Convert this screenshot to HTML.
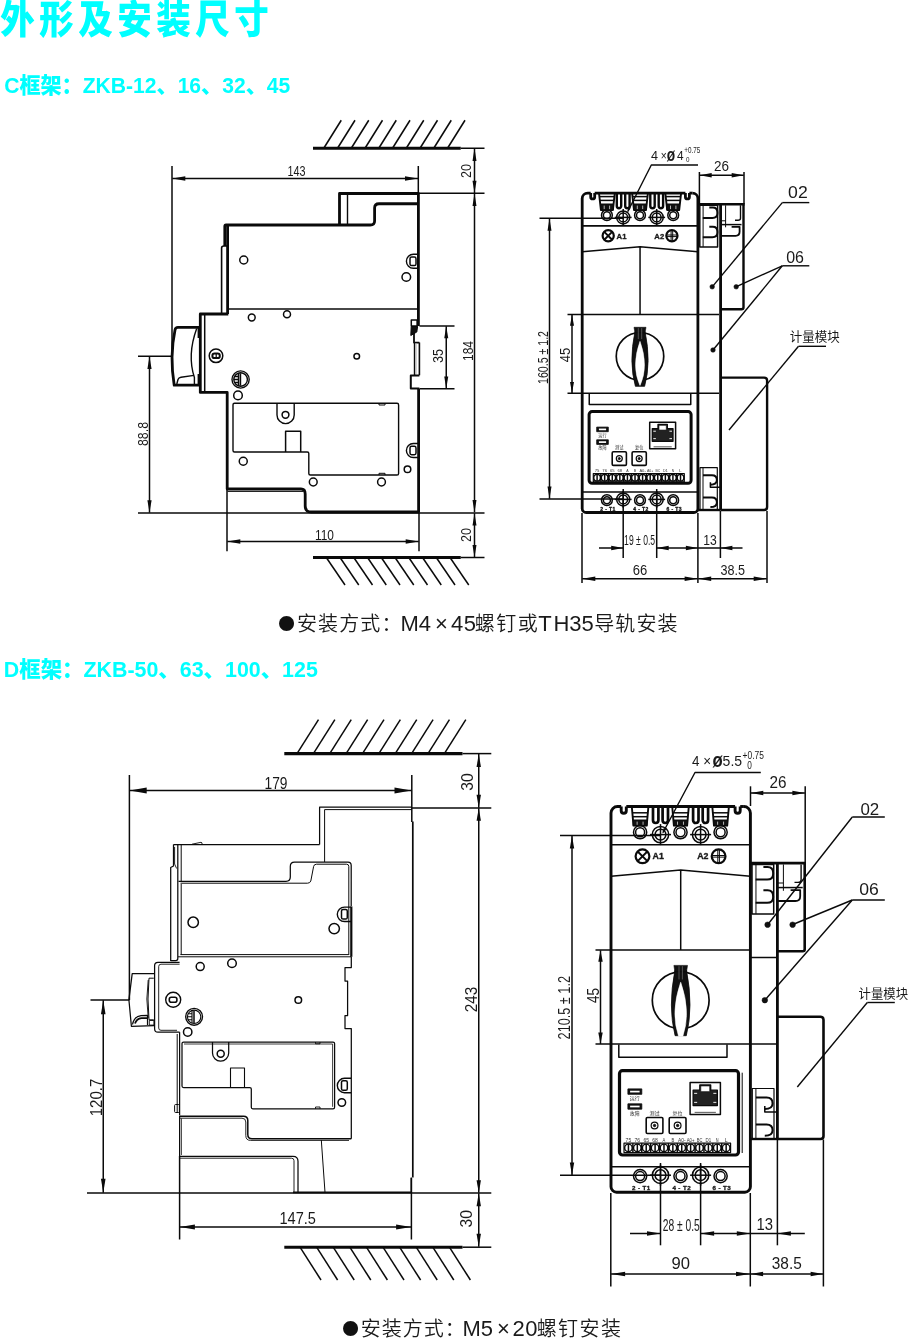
<!DOCTYPE html>
<html lang="zh-CN"><head><meta charset="utf-8"><title>外形及安装尺寸</title>
<style>
html,body{margin:0;padding:0;background:#fff}
body{width:908px;height:1338px;overflow:hidden;position:relative}
svg{position:absolute;left:0;top:0;display:block;will-change:transform}
svg text{font-family:"Liberation Sans","Noto Sans CJK SC",sans-serif;stroke:none}
svg .cy{fill:#00ffff;font-weight:900}
svg .cj{font-weight:350}
svg .cm{font-weight:400}
svg .a{fill:#0a0a0a;stroke:none}
svg text.bd{stroke:#1a1a1a;stroke-width:0.35px}
</style></head><body>
<svg width="908" height="1338" viewBox="0 0 908 1338">
<g fill="none" stroke="#0a0a0a" stroke-linejoin="round">
<text x="0" y="0" font-size="34.5" transform="translate(0.3 33.4) scale(1 1.13)" class="cy" fill="#1a1a1a" letter-spacing="4.5">外形及安装尺寸</text>
<text x="0" y="0" font-size="19.5" textLength="286" lengthAdjust="spacingAndGlyphs" transform="translate(4.2 93) scale(1 1.1)" class="cy" fill="#1a1a1a">C框架：ZKB-12、16、32、45</text>
<text x="0" y="0" font-size="19.5" textLength="314" lengthAdjust="spacingAndGlyphs" transform="translate(3.8 676.5) scale(1 1.1)" class="cy" fill="#1a1a1a">D框架：ZKB-50、63、100、125</text>
<text x="278.15" y="630" font-size="16.6" fill="#111" style="font-family:'Noto Sans CJK SC','Liberation Sans',sans-serif">●</text>
<text class="cj" fill="#1a1a1a" y="631.4"><tspan x="297" font-size="20" letter-spacing="1.1">安装方式：</tspan><tspan x="400.5" font-size="22" letter-spacing="0">M4</tspan><tspan x="435.1" font-size="22" letter-spacing="0">×</tspan><tspan x="451" font-size="22" letter-spacing="0.4">45</tspan><tspan x="474.7" font-size="20" letter-spacing="1.5">螺钉或</tspan><tspan x="538.2" font-size="22" letter-spacing="0">T</tspan><tspan x="553.4" font-size="22" letter-spacing="0">H35</tspan><tspan x="594.2" font-size="20" letter-spacing="1.1">导轨安装</tspan></text>
<text x="342.25" y="1335" font-size="16.6" fill="#111" style="font-family:'Noto Sans CJK SC','Liberation Sans',sans-serif">●</text>
<text class="cj" fill="#1a1a1a" y="1336.4"><tspan x="360.7" font-size="20" letter-spacing="1">安装方式：</tspan><tspan x="462.4" font-size="22" letter-spacing="0">M5</tspan><tspan x="497" font-size="22" letter-spacing="0">×</tspan><tspan x="512.5" font-size="22" letter-spacing="0.4">20</tspan><tspan x="536.7" font-size="20" letter-spacing="1.4">螺钉安装</tspan></text>
<path d="M313 148.25L460.75 148.25" stroke-width="2.9"/>
<path d="M460.75 148.25L484.5 148.25" stroke-width="1.5"/>
<path d="M323.75 148.25L341.25 120.25" stroke-width="1.5"/>
<path d="M337.5 148.25L355 120.25" stroke-width="1.5"/>
<path d="M351.25 148.25L368.75 120.25" stroke-width="1.5"/>
<path d="M365 148.25L382.5 120.25" stroke-width="1.5"/>
<path d="M378.75 148.25L396.25 120.25" stroke-width="1.5"/>
<path d="M392.5 148.25L410 120.25" stroke-width="1.5"/>
<path d="M406.25 148.25L423.75 120.25" stroke-width="1.5"/>
<path d="M420 148.25L437.5 120.25" stroke-width="1.5"/>
<path d="M433.75 148.25L451.25 120.25" stroke-width="1.5"/>
<path d="M447.5 148.25L465 120.25" stroke-width="1.5"/>
<path d="M313 557.5L460.75 557.5" stroke-width="2.9"/>
<path d="M460.75 557.5L484.5 557.5" stroke-width="1.5"/>
<path d="M326.25 557.5L345 585" stroke-width="1.5"/>
<path d="M340 557.5L358.75 585" stroke-width="1.5"/>
<path d="M353.75 557.5L372.5 585" stroke-width="1.5"/>
<path d="M367.5 557.5L386.25 585" stroke-width="1.5"/>
<path d="M381.25 557.5L400 585" stroke-width="1.5"/>
<path d="M395 557.5L413.75 585" stroke-width="1.5"/>
<path d="M408.75 557.5L427.5 585" stroke-width="1.5"/>
<path d="M422.5 557.5L441.25 585" stroke-width="1.5"/>
<path d="M436.25 557.5L455 585" stroke-width="1.5"/>
<path d="M450 557.5L468.75 585" stroke-width="1.5"/>
<path d="M172 166L172 356" stroke-width="1.5"/>
<path d="M418.3 166L418.3 193" stroke-width="1.5"/>
<path d="M172.3 178.5L418 178.5" stroke-width="1.5"/>
<path d="M172.3 178.5L185.3 176.3L185.3 180.7Z" class="a"/>
<path d="M418 178.5L405 180.7L405 176.3Z" class="a"/>
<text x="296.5" y="176.3" font-size="14" text-anchor="middle" textLength="18" lengthAdjust="spacingAndGlyphs" fill="#1a1a1a">143</text>
<path d="M418.5 193.25L484.5 193.25" stroke-width="1.5"/>
<path d="M474.5 148.6L474.5 193" stroke-width="1.5"/>
<path d="M474.5 148.6L476.5 160.9L472.5 160.9Z" class="a"/>
<path d="M474.5 193L472.5 180.7L476.5 180.7Z" class="a"/>
<text x="470.5" y="171" font-size="14" text-anchor="middle" textLength="14" lengthAdjust="spacingAndGlyphs" transform="rotate(-90 470.5 171)" fill="#1a1a1a">20</text>
<path d="M474.5 193.6L474.5 512.3" stroke-width="1.5"/>
<path d="M474.5 193.6L476.5 205.9L472.5 205.9Z" class="a"/>
<path d="M474.5 512.3L472.5 500L476.5 500Z" class="a"/>
<text x="473" y="351" font-size="14" text-anchor="middle" textLength="20" lengthAdjust="spacingAndGlyphs" transform="rotate(-90 473 351)" fill="#1a1a1a">184</text>
<path d="M138 513L484.5 513" stroke-width="1.5"/>
<path d="M474.5 513.3L474.5 557.2" stroke-width="1.5"/>
<path d="M474.5 513.3L476.5 525.6L472.5 525.6Z" class="a"/>
<path d="M474.5 557.2L472.5 544.9L476.5 544.9Z" class="a"/>
<text x="470.5" y="535" font-size="14" text-anchor="middle" textLength="14" lengthAdjust="spacingAndGlyphs" transform="rotate(-90 470.5 535)" fill="#1a1a1a">20</text>
<path d="M419.5 326L454.5 326" stroke-width="1.5"/>
<path d="M419.5 388.7L454.5 388.7" stroke-width="1.5"/>
<path d="M446.25 326.3L446.25 388.4" stroke-width="1.5"/>
<path d="M446.25 326.3L448.25 338.3L444.25 338.3Z" class="a"/>
<path d="M446.25 388.4L444.25 376.4L448.25 376.4Z" class="a"/>
<text x="443" y="356" font-size="14" text-anchor="middle" textLength="14" lengthAdjust="spacingAndGlyphs" transform="rotate(-90 443 356)" fill="#1a1a1a">35</text>
<path d="M138 356.25L172 356.25" stroke-width="1.5"/>
<path d="M149.5 356.5L149.5 512.7" stroke-width="1.5"/>
<path d="M149.5 356.5L151.6 369L147.4 369Z" class="a"/>
<path d="M149.5 512.7L147.4 500.2L151.6 500.2Z" class="a"/>
<text x="148" y="434" font-size="14" text-anchor="middle" textLength="24" lengthAdjust="spacingAndGlyphs" transform="rotate(-90 148 434)" fill="#1a1a1a">88.8</text>
<path d="M227 489L227 551.3" stroke-width="1.5"/>
<path d="M419 513L419 551.3" stroke-width="1.5"/>
<path d="M227.3 541.5L418.7 541.5" stroke-width="1.5"/>
<path d="M227.3 541.5L240.3 539.3L240.3 543.7Z" class="a"/>
<path d="M418.7 541.5L405.7 543.7L405.7 539.3Z" class="a"/>
<text x="324.5" y="539.5" font-size="14" text-anchor="middle" textLength="19" lengthAdjust="spacingAndGlyphs" fill="#1a1a1a">110</text>
<path d="M339.5 225V193.5H418.4V326" stroke-width="2.8"/>
<path d="M418.6 388.7V512H311Q305.2 512 305.2 506V494Q305.2 489 301 489H227.2V392.4H200.3V314H228.3" stroke-width="2.8"/>
<path d="M227.6 225V314" stroke-width="2.8"/>
<path d="M418.4 203.75H379Q374.6 203.75 374.6 208V221Q374.6 225 370.3 225H226Q224.8 225 224.8 226.5V246" stroke-width="2.8"/>
<path d="M221.6 313.5V248Q221.6 246 224 246H227" stroke-width="1.6"/>
<path d="M347.5 194L347.5 225" stroke-width="1.4"/>
<path d="M228.5 309L417.5 309" stroke-width="1.4"/>
<path d="M204.7 314.5L204.7 392" stroke-width="1.5"/>
<path d="M227.5 491.4L303 491.4" stroke-width="1"/>
<path d="M199.5 327.4H178Q175.5 327.4 175 330Q169.5 356 174.2 385.2H199.5" stroke-width="2.8"/>
<path d="M196.7 328.4Q187 355 194.4 377.5V385" stroke-width="1.4"/>
<path d="M176.8 384L178 379.5Q178.6 377.6 181 377.2L194 375.4" stroke-width="1.4"/>
<path d="M199 328L199 338" stroke-width="2.8"/>
<path d="M199 374L199 385" stroke-width="2.8"/>
<rect x="411.3" y="320" width="5.8" height="6" stroke-width="1.5"/>
<path d="M411.2 326.5L410.8 335.5L416.8 332L417.6 326.5Z" stroke-width="1" fill="#111"/>
<path d="M414 333V342.6H419.4" stroke-width="1.8"/>
<path d="M419.4 342.6V375.2M414.6 342.6V375.2" stroke-width="1.6"/>
<path d="M415.8 343.5V374.5" stroke-width="1.6" style="stroke:#bbb"/>
<path d="M419.4 375.6H410.8V388.6H419.4" stroke-width="2"/>
<path d="M234.5 403.3H397Q398.6 403.3 398.6 405V473.4Q398.6 475 397 475H310.3Q308.8 475 308.8 473.5V453.5Q308.8 452 307.3 452H234.5Q233 452 233 450.5V404.8Q233 403.3 234.5 403.3Z" stroke-width="1.4"/>
<path d="M277 403.3V415A8.6 8.6 0 0 0 294.2 415V403.3" stroke-width="1.4"/>
<circle cx="285.5" cy="414.8" r="3.4" stroke-width="1.5"/>
<path d="M285.6 452V431.3H300.7V452" stroke-width="1.5"/>
<path d="M379 403.3V405H385V403.3M379 475V473.3H385V475" stroke-width="1"/>
<circle cx="243.75" cy="260" r="4" stroke-width="1.5"/>
<circle cx="251.75" cy="317.5" r="3.4" stroke-width="1.5"/>
<circle cx="287" cy="314.25" r="3.5" stroke-width="1.5"/>
<circle cx="356.75" cy="356.25" r="2.8" stroke-width="1.5"/>
<circle cx="238" cy="395.4" r="4.3" stroke-width="1.5"/>
<circle cx="243.25" cy="461.25" r="4" stroke-width="1.5"/>
<circle cx="313.25" cy="482" r="3.9" stroke-width="1.5"/>
<circle cx="381.5" cy="482" r="3.9" stroke-width="1.5"/>
<circle cx="406.3" cy="277" r="4.3" stroke-width="1.5"/>
<circle cx="407.5" cy="469.25" r="3.3" stroke-width="1.5"/>
<circle cx="216" cy="355.8" r="6.8" stroke-width="1.5"/>
<rect x="212.4" y="353.5" width="7.4" height="4.6" stroke-width="2" rx="2.2"/>
<path d="M216.2 353.5L216.2 358.1" stroke-width="1.2"/>
<circle cx="240.6" cy="379.5" r="8.6" stroke-width="1.4"/>
<circle cx="240.6" cy="379.5" r="6.8" stroke-width="1.4"/>
<path d="M238.5 373V386M238.5 379.5H234M234.2 376.5H238.5M234.2 382.5H238.5" stroke-width="1.4"/>
<path d="M240.4 373.3V385.7" stroke-width="1.6"/>
<path d="M418 268.3 H413.4A7 7 0 0 1 413.4 254.3H418" stroke-width="1.4"/>
<rect x="410" y="257.1" width="6" height="8.4" stroke-width="1.5" rx="1.6"/>
<path d="M418 457.5 H413.4A7 7 0 0 1 413.4 443.5H418" stroke-width="1.4"/>
<rect x="410" y="446.3" width="6" height="8.4" stroke-width="1.5" rx="1.6"/>
<path d="M590.7 193.1H587.7A5.5 5.5 0 0 0 582.2 198.6V508.5A4 4 0 0 0 586.2 512.5H693.9A4 4 0 0 0 697.9 508.5V198.6A5.5 5.5 0 0 0 692.4 193.1" stroke-width="2.8"/>
<path d="M590.7 193.1V196.9A2 2 0 0 0 594.7 196.9V193.1" stroke-width="2.8"/>
<path d="M689.4 193.1V196.9A2 2 0 0 1 685.4 196.9V193.1" stroke-width="2.8"/>
<path d="M594.7 193.1L685.4 193.1" stroke-width="2.8"/>
<path d="M689.4 193.1L692.4 193.1" stroke-width="2.8"/>
<path d="M599 193.1L600.9 210H612.9L614.8 193.1" stroke-width="1.9"/>
<path d="M599.6 196.6L614.2 196.6" stroke-width="1.5"/>
<path d="M600 200.4L613.8 200.4" stroke-width="1.5"/>
<path d="M600.6 204H613.2V210H600.6Z" stroke-width="1" fill="#111"/>
<path d="M604.2 205.6v3.6 M609.6 205.6v3.6" stroke-width="0.8" style="stroke:#ddd"/>
<path d="M632.1 193.1L634 210H646L647.9 193.1" stroke-width="1.9"/>
<path d="M632.7 196.6L647.3 196.6" stroke-width="1.5"/>
<path d="M633.1 200.4L646.9 200.4" stroke-width="1.5"/>
<path d="M633.7 204H646.3V210H633.7Z" stroke-width="1" fill="#111"/>
<path d="M637.3 205.6v3.6 M642.7 205.6v3.6" stroke-width="0.8" style="stroke:#ddd"/>
<path d="M665.3 193.1L667.2 210H679.2L681.1 193.1" stroke-width="1.9"/>
<path d="M665.9 196.6L680.5 196.6" stroke-width="1.5"/>
<path d="M666.3 200.4L680.1 200.4" stroke-width="1.5"/>
<path d="M666.9 204H679.5V210H666.9Z" stroke-width="1" fill="#111"/>
<path d="M670.5 205.6v3.6 M675.9 205.6v3.6" stroke-width="0.8" style="stroke:#ddd"/>
<path d="M616.8 193.1V206A2.2 2.2 0 0 0 621.2 206V193.1" stroke-width="2.4"/>
<path d="M625.2 193.1V206A2.2 2.2 0 0 0 629.6 206V193.1" stroke-width="2.4"/>
<path d="M650.3 193.1V206A2.2 2.2 0 0 0 654.7 206V193.1" stroke-width="2.4"/>
<path d="M658.7 193.1V206A2.2 2.2 0 0 0 663.1 206V193.1" stroke-width="2.4"/>
<circle cx="606.9" cy="215.2" r="5.4" stroke-width="1.5"/>
<circle cx="606.9" cy="215.2" r="3.5" stroke-width="1.5"/>
<circle cx="640" cy="215.2" r="5.4" stroke-width="1.5"/>
<circle cx="640" cy="215.2" r="3.5" stroke-width="1.5"/>
<circle cx="673.2" cy="215.2" r="5.4" stroke-width="1.5"/>
<circle cx="673.2" cy="215.2" r="3.5" stroke-width="1.5"/>
<circle cx="623.2" cy="217.4" r="6.5" stroke-width="1.5"/>
<circle cx="623.2" cy="217.4" r="4.4" stroke-width="1.5"/>
<path d="M614.8 217.4L631.6 217.4" stroke-width="1.5"/>
<path d="M623.2 209L623.2 225.8" stroke-width="1.5"/>
<circle cx="656.7" cy="217.4" r="6.5" stroke-width="1.5"/>
<circle cx="656.7" cy="217.4" r="4.4" stroke-width="1.5"/>
<path d="M648.3 217.4L665.1 217.4" stroke-width="1.5"/>
<path d="M656.7 209L656.7 225.8" stroke-width="1.5"/>
<circle cx="606.9" cy="500.2" r="5.4" stroke-width="1.5"/>
<circle cx="606.9" cy="500.2" r="3.5" stroke-width="1.5"/>
<circle cx="640" cy="500.2" r="5.4" stroke-width="1.5"/>
<circle cx="640" cy="500.2" r="3.5" stroke-width="1.5"/>
<circle cx="673.2" cy="500.2" r="5.4" stroke-width="1.5"/>
<circle cx="673.2" cy="500.2" r="3.5" stroke-width="1.5"/>
<circle cx="623.2" cy="499.4" r="6.5" stroke-width="1.5"/>
<circle cx="623.2" cy="499.4" r="4.4" stroke-width="1.5"/>
<path d="M614.8 499.4L631.6 499.4" stroke-width="1.5"/>
<path d="M623.2 491L623.2 507.8" stroke-width="1.5"/>
<circle cx="656.7" cy="499.4" r="6.5" stroke-width="1.5"/>
<circle cx="656.7" cy="499.4" r="4.4" stroke-width="1.5"/>
<path d="M648.3 499.4L665.1 499.4" stroke-width="1.5"/>
<path d="M656.7 491L656.7 507.8" stroke-width="1.5"/>
<path d="M582.2 225.9L697.9 225.9" stroke-width="1.6"/>
<path d="M582.2 491.9L697.9 491.9" stroke-width="1.5"/>
<circle cx="608.2" cy="235.8" r="5.6" stroke-width="2.2"/>
<path d="M604.28 231.88L612.12 239.72M612.12 231.88L604.28 239.72" stroke-width="1.9"/>
<circle cx="671.9" cy="235.8" r="5.6" stroke-width="2.2"/>
<path d="M671.1 230.2V241.4M672.7 230.2V241.4M666.3 235H677.5M666.3 236.6H677.5" stroke-width="1"/>
<text x="616.6" y="238.57" font-size="7.7" font-weight="700" class="bd" fill="#1a1a1a">A1</text>
<text x="664.2" y="238.57" font-size="7.7" text-anchor="end" font-weight="700" class="bd" fill="#1a1a1a">A2</text>
<path d="M582.2 251.8L640.05 246.8L697.9 251.8" stroke-width="1.4"/>
<path d="M640.05 246.8L640.05 314.5" stroke-width="1.5"/>
<circle cx="640" cy="356.25" r="23.75" stroke-width="1.7"/>
<path d="M635 331.43Q628.6 362.16 635.4 386.3H644.6Q651.4 362.16 645 331.43Z" stroke-width="0.8" fill="#111"/>
<path d="M634 327.3H646L645 332.61H635Z" stroke-width="0.6" fill="#111"/>
<path d="M639.9 341.46Q631.15 366.01 639.8 385.3H640.2Q648.85 366.01 640.1 341.46Z" stroke-width="0.5" fill="#fff" stroke="#fff"/>
<path d="M638.3 328.1V339.1M641.7 328.1V339.1" stroke-width="0.5" style="stroke:#999"/>
<path d="M589.25 393.5V404.5H690.75V393.5" stroke-width="1.5"/>
<rect x="589.1" y="411.6" width="102" height="71.6" stroke-width="3" rx="3"/>
<rect x="596.7" y="427.1" width="11.6" height="4.6" stroke-width="0.8" fill="#111"/>
<path d="M598.9 429.4H606.1" stroke-width="1.7" style="stroke:#fff"/>
<rect x="596.7" y="439.8" width="11.6" height="4.6" stroke-width="0.8" fill="#111"/>
<path d="M598.9 442.1H606.1" stroke-width="1.7" style="stroke:#fff"/>
<text x="602.5" y="436.51" font-size="4.2" text-anchor="middle" font-weight="400" fill="#333">运行</text>
<text x="602.5" y="449.21" font-size="4.2" text-anchor="middle" font-weight="400" fill="#333">故障</text>
<rect x="612.2" y="451.8" width="14.2" height="13.6" stroke-width="1.6" rx="1.2"/>
<circle cx="619.3" cy="458.6" r="3" stroke-width="1.2"/>
<circle cx="619.3" cy="458.6" r="1.05" stroke-width="0.9" fill="#111"/>
<text x="619.3" y="449.49" font-size="4.2" text-anchor="middle" font-weight="400" fill="#333">测试</text>
<rect x="632.1" y="451.8" width="14.2" height="13.6" stroke-width="1.6" rx="1.2"/>
<circle cx="639.2" cy="458.6" r="3" stroke-width="1.2"/>
<circle cx="639.2" cy="458.6" r="1.05" stroke-width="0.9" fill="#111"/>
<text x="639.2" y="449.49" font-size="4.2" text-anchor="middle" font-weight="400" fill="#333">复位</text>
<rect x="649.7" y="422.2" width="25.9" height="26.5" stroke-width="1.5"/>
<path d="M652.29 428.56H657.99V424.32H667.31V428.56H673.01V441.28H652.29Z" stroke-width="1.3" fill="#222"/>
<rect x="658.99" y="425.32" width="7.32" height="4.74" stroke-width="0.6" fill="#fff"/>
<path d="M653.29 431.21h2.59M672.01 431.21h-2.59" stroke-width="1" style="stroke:#eee"/>
<path d="M653.29 438.63h2.59M672.01 438.63h-2.59" stroke-width="1" style="stroke:#eee"/>
<path d="M653.59 446.84L671.72 446.84" stroke-width="0.7"/>
<rect x="593.3" y="473.5" width="91" height="8.3" stroke-width="1.2"/>
<circle cx="597.09" cy="477.65" r="3.32" stroke-width="1.4"/>
<path d="M597.09 474.5L597.09 480.8" stroke-width="1.5"/>
<text x="597.09" y="472.2" font-size="4.2" text-anchor="middle" textLength="4.7" lengthAdjust="spacingAndGlyphs" fill="#333">75</text>
<path d="M600.88 473.5L600.88 481.8" stroke-width="1.5"/>
<circle cx="604.67" cy="477.65" r="3.32" stroke-width="1.4"/>
<path d="M604.67 474.5L604.67 480.8" stroke-width="1.5"/>
<text x="604.67" y="472.2" font-size="4.2" text-anchor="middle" textLength="4.7" lengthAdjust="spacingAndGlyphs" fill="#333">76</text>
<path d="M608.47 473.5L608.47 481.8" stroke-width="1.5"/>
<circle cx="612.26" cy="477.65" r="3.32" stroke-width="1.4"/>
<path d="M612.26 474.5L612.26 480.8" stroke-width="1.5"/>
<text x="612.26" y="472.2" font-size="4.2" text-anchor="middle" textLength="4.7" lengthAdjust="spacingAndGlyphs" fill="#333">65</text>
<path d="M616.05 473.5L616.05 481.8" stroke-width="1.5"/>
<circle cx="619.84" cy="477.65" r="3.32" stroke-width="1.4"/>
<path d="M619.84 474.5L619.84 480.8" stroke-width="1.5"/>
<text x="619.84" y="472.2" font-size="4.2" text-anchor="middle" textLength="4.7" lengthAdjust="spacingAndGlyphs" fill="#333">68</text>
<path d="M623.63 473.5L623.63 481.8" stroke-width="1.5"/>
<circle cx="627.42" cy="477.65" r="3.32" stroke-width="1.4"/>
<path d="M627.42 474.5L627.42 480.8" stroke-width="1.5"/>
<text x="627.42" y="472.2" font-size="4.2" text-anchor="middle" textLength="2.35" lengthAdjust="spacingAndGlyphs" fill="#333">A</text>
<path d="M631.22 473.5L631.22 481.8" stroke-width="1.5"/>
<circle cx="635.01" cy="477.65" r="3.32" stroke-width="1.4"/>
<path d="M635.01 474.5L635.01 480.8" stroke-width="1.5"/>
<text x="635.01" y="472.2" font-size="4.2" text-anchor="middle" textLength="2.35" lengthAdjust="spacingAndGlyphs" fill="#333">B</text>
<path d="M638.8 473.5L638.8 481.8" stroke-width="1.5"/>
<circle cx="642.59" cy="477.65" r="3.32" stroke-width="1.4"/>
<path d="M642.59 474.5L642.59 480.8" stroke-width="1.5"/>
<text x="642.59" y="472.2" font-size="4.2" text-anchor="middle" textLength="6.38" lengthAdjust="spacingAndGlyphs" fill="#333">A0-</text>
<path d="M646.38 473.5L646.38 481.8" stroke-width="1.5"/>
<circle cx="650.17" cy="477.65" r="3.32" stroke-width="1.4"/>
<path d="M650.17 474.5L650.17 480.8" stroke-width="1.5"/>
<text x="650.17" y="472.2" font-size="4.2" text-anchor="middle" textLength="6.38" lengthAdjust="spacingAndGlyphs" fill="#333">A0+</text>
<path d="M653.97 473.5L653.97 481.8" stroke-width="1.5"/>
<circle cx="657.76" cy="477.65" r="3.32" stroke-width="1.4"/>
<path d="M657.76 474.5L657.76 480.8" stroke-width="1.5"/>
<text x="657.76" y="472.2" font-size="4.2" text-anchor="middle" textLength="4.7" lengthAdjust="spacingAndGlyphs" fill="#333">BC</text>
<path d="M661.55 473.5L661.55 481.8" stroke-width="1.5"/>
<circle cx="665.34" cy="477.65" r="3.32" stroke-width="1.4"/>
<path d="M665.34 474.5L665.34 480.8" stroke-width="1.5"/>
<text x="665.34" y="472.2" font-size="4.2" text-anchor="middle" textLength="4.7" lengthAdjust="spacingAndGlyphs" fill="#333">D1</text>
<path d="M669.13 473.5L669.13 481.8" stroke-width="1.5"/>
<circle cx="672.92" cy="477.65" r="3.32" stroke-width="1.4"/>
<path d="M672.92 474.5L672.92 480.8" stroke-width="1.5"/>
<text x="672.92" y="472.2" font-size="4.2" text-anchor="middle" textLength="2.35" lengthAdjust="spacingAndGlyphs" fill="#333">N</text>
<path d="M676.72 473.5L676.72 481.8" stroke-width="1.5"/>
<circle cx="680.51" cy="477.65" r="3.32" stroke-width="1.4"/>
<path d="M680.51 474.5L680.51 480.8" stroke-width="1.5"/>
<text x="680.51" y="472.2" font-size="4.2" text-anchor="middle" textLength="2.35" lengthAdjust="spacingAndGlyphs" fill="#333">L</text>
<text x="607.9" y="511.2" font-size="5" text-anchor="middle" font-weight="700" class="bd" fill="#1a1a1a" letter-spacing="0.4">2 - T1</text>
<text x="641" y="511.2" font-size="5" text-anchor="middle" font-weight="700" class="bd" fill="#1a1a1a" letter-spacing="0.4">4 - T2</text>
<text x="674.2" y="511.2" font-size="5" text-anchor="middle" font-weight="700" class="bd" fill="#1a1a1a" letter-spacing="0.4">6 - T3</text>
<path d="M698 204.3L744.7 204.3" stroke-width="2.4"/>
<path d="M720.6 204.3L720.6 510" stroke-width="2.8"/>
<path d="M743.5 204.3V307.2Q743.5 309.2 741.5 309.2H720.6" stroke-width="2.4"/>
<path d="M720.6 377.6H764.1Q767.1 377.6 767.1 380.6V507Q767.1 510 764.1 510H720.6" stroke-width="2.4"/>
<rect x="699.8" y="205.3" width="17.8" height="41.6" stroke-width="1.5"/>
<path d="M703.1 205.3L703.1 246.9" stroke-width="1"/>
<path d="M709.3 207.5h3.5q4.6 0 4.6 4.8v1.2q0 4.4 -5 4.4h-9.6" stroke-width="2"/>
<path d="M709.3 226.8h3.5q4.6 0 4.6 4.8v1.2q0 4.4 -5 4.4h-9.6" stroke-width="2"/>
<path d="M725.6 205.3L725.6 227.3" stroke-width="1"/>
<path d="M740.5 205.3v13q0 2 -2.5 2h-3" stroke-width="1.4"/>
<path d="M720.6 224.6L741.5 224.6" stroke-width="1.5"/>
<path d="M731.6 226.8h8v5q0 4 -4 4H720.6" stroke-width="1.8"/>
<path d="M720.6 220.8L725.6 220.8" stroke-width="1"/>
<path d="M700 509.5V467.7H717.3V509.5" stroke-width="1.2"/>
<path d="M703 467.7L703 509.5" stroke-width="1"/>
<path d="M703 475.3h8.9q5 0 5 4.8q0 4.6 -6.5 4.6" stroke-width="2"/>
<path d="M710.4 482.3v4.9H720.6" stroke-width="1.5"/>
<path d="M703 497.6h8.9q5 0 5 4.8q0 4.6 -6.5 4.6" stroke-width="2"/>
<circle cx="712.2" cy="286.8" r="2.3" stroke-width="0.5" fill="#111"/>
<circle cx="736.2" cy="286.8" r="2.3" stroke-width="0.5" fill="#111"/>
<circle cx="713" cy="350" r="2.3" stroke-width="0.5" fill="#111"/>
<path d="M567.5 314.5L719 314.5" stroke-width="1.5"/>
<path d="M567.5 393.3L719 393.3" stroke-width="1.5"/>
<path d="M572 314.8L572 393" stroke-width="1.5"/>
<path d="M572 314.8L574 325.8L570 325.8Z" class="a"/>
<path d="M572 393L570 382L574 382Z" class="a"/>
<text x="570.3" y="355" font-size="14" text-anchor="middle" textLength="14.5" lengthAdjust="spacingAndGlyphs" transform="rotate(-90 570.3 355)" fill="#1a1a1a">45</text>
<path d="M539.5 218.2L623.2 218.2" stroke-width="1.5"/>
<path d="M539.5 499L623.2 499" stroke-width="1.5"/>
<path d="M549.5 218.5L549.5 498.7" stroke-width="1.5"/>
<path d="M549.5 218.5L551.5 230.8L547.5 230.8Z" class="a"/>
<path d="M549.5 498.7L547.5 486.4L551.5 486.4Z" class="a"/>
<text x="547.5" y="357.5" font-size="14" text-anchor="middle" textLength="53" lengthAdjust="spacingAndGlyphs" transform="rotate(-90 547.5 357.5)" fill="#1a1a1a">160.5 ± 1.2</text>
<path d="M699.4 172L699.4 204" stroke-width="1.5"/>
<path d="M744 172L744 204" stroke-width="1.5"/>
<path d="M699.7 175.3L743.7 175.3" stroke-width="1.5"/>
<path d="M699.7 175.3L711.7 173L711.7 177.6Z" class="a"/>
<path d="M743.7 175.3L731.7 177.6L731.7 173Z" class="a"/>
<text x="721.5" y="171.3" font-size="14" text-anchor="middle" textLength="15" lengthAdjust="spacingAndGlyphs" fill="#1a1a1a">26</text>
<path d="M627.8 211.5L651.3 165H698" stroke-width="1.4"/>
<path d="M627.3 212.5L628.48 207.51L630.62 208.59Z" class="a"/>
<text x="651" y="160.1" font-size="13.4" textLength="7" lengthAdjust="spacingAndGlyphs" fill="#1a1a1a">4</text>
<text x="660.7" y="160.1" font-size="13.4" textLength="6" lengthAdjust="spacingAndGlyphs" fill="#1a1a1a">×</text>
<text x="666.8" y="160.6" font-size="18" textLength="8.4" lengthAdjust="spacingAndGlyphs" font-weight="700" fill="#1a1a1a">ø</text>
<text x="677" y="160.1" font-size="13.4" textLength="6.6" lengthAdjust="spacingAndGlyphs" fill="#1a1a1a">4</text>
<text x="684.2" y="153.3" font-size="9" textLength="16" lengthAdjust="spacingAndGlyphs" fill="#1a1a1a">+0.75</text>
<text x="686" y="162.1" font-size="7.7" textLength="3.5" lengthAdjust="spacingAndGlyphs" fill="#1a1a1a">0</text>
<path d="M782.3 202.6L809.3 202.6" stroke-width="1.4"/>
<path d="M782.3 202.6L712.4 286.6" stroke-width="1.4"/>
<text x="797.9" y="197.5" font-size="17" text-anchor="middle" textLength="19.6" lengthAdjust="spacingAndGlyphs" fill="#1a1a1a">02</text>
<path d="M782.3 265.8L809.3 265.8" stroke-width="1.4"/>
<path d="M782.3 265.8L736.4 286.6" stroke-width="1.4"/>
<path d="M782.3 265.8L713.2 349.8" stroke-width="1.4"/>
<text x="795.1" y="262.7" font-size="16.5" text-anchor="middle" textLength="17.8" lengthAdjust="spacingAndGlyphs" fill="#1a1a1a">06</text>
<path d="M798.5 346.3L826 346.3" stroke-width="1.4"/>
<path d="M798.5 346.3L729 430" stroke-width="1.4"/>
<text x="789.8" y="341.4" font-size="12.6" textLength="50" lengthAdjust="spacingAndGlyphs" class="cm" fill="#1a1a1a">计量模块</text>
<path d="M582 513L582 583" stroke-width="1.5"/>
<path d="M697.9 513L697.9 583" stroke-width="1.5"/>
<path d="M623.2 489L623.2 558" stroke-width="1.5"/>
<path d="M656.7 489L656.7 558" stroke-width="1.5"/>
<path d="M720.4 511L720.4 558" stroke-width="1.5"/>
<path d="M767 511L767 583" stroke-width="1.5"/>
<path d="M599 548L623 548" stroke-width="1.5"/>
<path d="M623.2 548L611.2 550.3L611.2 545.7Z" class="a"/>
<path d="M656.7 548L742.5 548" stroke-width="1.5"/>
<path d="M656.7 548L668.7 545.7L668.7 550.3Z" class="a"/>
<path d="M697.9 548L685.9 550.3L685.9 545.7Z" class="a"/>
<path d="M720.4 548L732.4 545.7L732.4 550.3Z" class="a"/>
<text x="639.6" y="545.3" font-size="14" text-anchor="middle" textLength="31" lengthAdjust="spacingAndGlyphs" fill="#1a1a1a">19 ± 0.5</text>
<text x="710" y="545.3" font-size="14" text-anchor="middle" textLength="13.5" lengthAdjust="spacingAndGlyphs" fill="#1a1a1a">13</text>
<path d="M582.3 578.8L697.6 578.8" stroke-width="1.5"/>
<path d="M582.3 578.8L595.3 576.5L595.3 581.1Z" class="a"/>
<path d="M697.6 578.8L684.6 581.1L684.6 576.5Z" class="a"/>
<path d="M698.2 578.8L766.7 578.8" stroke-width="1.5"/>
<path d="M698.2 578.8L711.2 576.5L711.2 581.1Z" class="a"/>
<path d="M766.7 578.8L753.7 581.1L753.7 576.5Z" class="a"/>
<text x="640" y="574.6" font-size="14" text-anchor="middle" textLength="14.5" lengthAdjust="spacingAndGlyphs" fill="#1a1a1a">66</text>
<text x="732.7" y="574.6" font-size="14" text-anchor="middle" textLength="24.5" lengthAdjust="spacingAndGlyphs" fill="#1a1a1a">38.5</text>
<path d="M621.2 806.5H617.5A6.5 6.5 0 0 0 611 813V1186.7A5.5 5.5 0 0 0 616.5 1192.2H744.9A5.5 5.5 0 0 0 750.4 1186.7V813A6.5 6.5 0 0 0 743.9 806.5" stroke-width="2.9"/>
<path d="M621.2 806.5V810.75A2.55 2.55 0 0 0 626.3 810.75V806.5" stroke-width="2.9"/>
<path d="M740.2 806.5V810.75A2.55 2.55 0 0 1 735.1 810.75V806.5" stroke-width="2.9"/>
<path d="M626.3 806.5L735.1 806.5" stroke-width="2.9"/>
<path d="M740.2 806.5L743.9 806.5" stroke-width="2.9"/>
<path d="M631.8 806.5L633.5 825.6H646.7L648.4 806.5" stroke-width="1.9"/>
<path d="M632.4 812.8L647.8 812.8" stroke-width="1.5"/>
<path d="M632.8 816.7L647.4 816.7" stroke-width="1.5"/>
<path d="M633.2 820H647V825.6H633.2Z" stroke-width="1" fill="#111"/>
<path d="M637.13 821.6v3.2 M643.07 821.6v3.2" stroke-width="0.8" style="stroke:#ddd"/>
<path d="M672.2 806.5L673.9 825.6H687.1L688.8 806.5" stroke-width="1.9"/>
<path d="M672.8 812.8L688.2 812.8" stroke-width="1.5"/>
<path d="M673.2 816.7L687.8 816.7" stroke-width="1.5"/>
<path d="M673.6 820H687.4V825.6H673.6Z" stroke-width="1" fill="#111"/>
<path d="M677.53 821.6v3.2 M683.47 821.6v3.2" stroke-width="0.8" style="stroke:#ddd"/>
<path d="M712.3 806.5L714 825.6H727.2L728.9 806.5" stroke-width="1.9"/>
<path d="M712.9 812.8L728.3 812.8" stroke-width="1.5"/>
<path d="M713.3 816.7L727.9 816.7" stroke-width="1.5"/>
<path d="M713.7 820H727.5V825.6H713.7Z" stroke-width="1" fill="#111"/>
<path d="M717.63 821.6v3.2 M723.57 821.6v3.2" stroke-width="0.8" style="stroke:#ddd"/>
<path d="M653 806.5V820.3A2.7 2.7 0 0 0 658.4 820.3V806.5" stroke-width="2.7"/>
<path d="M662.6 806.5V820.3A2.7 2.7 0 0 0 668 820.3V806.5" stroke-width="2.7"/>
<path d="M693.1 806.5V820.3A2.7 2.7 0 0 0 698.5 820.3V806.5" stroke-width="2.7"/>
<path d="M702.7 806.5V820.3A2.7 2.7 0 0 0 708.1 820.3V806.5" stroke-width="2.7"/>
<circle cx="640.1" cy="832.2" r="6.6" stroke-width="1.5"/>
<circle cx="640.1" cy="832.2" r="4.5" stroke-width="1.5"/>
<circle cx="680.5" cy="832.2" r="6.6" stroke-width="1.5"/>
<circle cx="680.5" cy="832.2" r="4.5" stroke-width="1.5"/>
<circle cx="720.6" cy="832.2" r="6.6" stroke-width="1.5"/>
<circle cx="720.6" cy="832.2" r="4.5" stroke-width="1.5"/>
<circle cx="660.5" cy="834.6" r="8.2" stroke-width="1.5"/>
<circle cx="660.5" cy="834.6" r="5.4" stroke-width="1.5"/>
<path d="M650 834.6L671 834.6" stroke-width="1.5"/>
<path d="M660.5 824.1L660.5 845.1" stroke-width="1.5"/>
<circle cx="700.6" cy="834.6" r="8.2" stroke-width="1.5"/>
<circle cx="700.6" cy="834.6" r="5.4" stroke-width="1.5"/>
<path d="M690.1 834.6L711.1 834.6" stroke-width="1.5"/>
<path d="M700.6 824.1L700.6 845.1" stroke-width="1.5"/>
<circle cx="640.1" cy="1176.1" r="6.6" stroke-width="1.5"/>
<circle cx="640.1" cy="1176.1" r="4.5" stroke-width="1.5"/>
<circle cx="680.5" cy="1176.1" r="6.6" stroke-width="1.5"/>
<circle cx="680.5" cy="1176.1" r="4.5" stroke-width="1.5"/>
<circle cx="720.6" cy="1176.1" r="6.6" stroke-width="1.5"/>
<circle cx="720.6" cy="1176.1" r="4.5" stroke-width="1.5"/>
<circle cx="660.5" cy="1175.2" r="8.2" stroke-width="1.5"/>
<circle cx="660.5" cy="1175.2" r="5.4" stroke-width="1.5"/>
<path d="M650 1175.2L671 1175.2" stroke-width="1.5"/>
<path d="M660.5 1164.7L660.5 1185.7" stroke-width="1.5"/>
<circle cx="700.6" cy="1175.2" r="8.2" stroke-width="1.5"/>
<circle cx="700.6" cy="1175.2" r="5.4" stroke-width="1.5"/>
<path d="M690.1 1175.2L711.1 1175.2" stroke-width="1.5"/>
<path d="M700.6 1164.7L700.6 1185.7" stroke-width="1.5"/>
<path d="M611 844.7L750.4 844.7" stroke-width="1.6"/>
<path d="M611 1166.8L750.4 1166.8" stroke-width="1.5"/>
<circle cx="642.5" cy="856.3" r="6.9" stroke-width="2.2"/>
<path d="M637.67 851.47L647.33 861.13M647.33 851.47L637.67 861.13" stroke-width="1.9"/>
<circle cx="718.6" cy="856.3" r="6.9" stroke-width="2.2"/>
<path d="M717.8 849.4V863.2M719.4 849.4V863.2M711.7 855.5H725.5M711.7 857.1H725.5" stroke-width="1"/>
<text x="652.6" y="859.47" font-size="8.8" font-weight="700" class="bd" fill="#1a1a1a">A1</text>
<text x="708.5" y="859.47" font-size="8.8" text-anchor="end" font-weight="700" class="bd" fill="#1a1a1a">A2</text>
<path d="M611 876.3L680.7 870L750.4 876.3" stroke-width="1.4"/>
<path d="M680.7 870L680.7 950" stroke-width="1.5"/>
<circle cx="680.7" cy="1000.3" r="28.4" stroke-width="1.7"/>
<path d="M674.9 970.32Q667.8 1006.93 675.1 1035.7H686.3Q693.6 1006.93 686.5 970.32Z" stroke-width="0.8" fill="#111"/>
<path d="M673.9 965.4H687.5L686.5 971.73H674.9Z" stroke-width="0.6" fill="#111"/>
<path d="M680.6 982.27Q670.25 1012.47 678.5 1036.2H682.9Q691.15 1012.47 680.8 982.27Z" stroke-width="0.5" fill="#fff" stroke="#fff"/>
<path d="M679 966.2V979.46M682.4 966.2V979.46" stroke-width="0.5" style="stroke:#999"/>
<path d="M618.8 1044.5V1057.3H727V1044.5" stroke-width="1.5"/>
<rect x="619.5" y="1070.7" width="119" height="84.3" stroke-width="3.2" rx="3"/>
<path d="M742.2 1072.7V1153" stroke-width="1"/>
<rect x="627.9" y="1088.9" width="13.9" height="5.4" stroke-width="0.8" fill="#111"/>
<path d="M630.1 1091.6H639.6" stroke-width="1.7" style="stroke:#fff"/>
<rect x="627.9" y="1103.8" width="13.9" height="5.4" stroke-width="0.8" fill="#111"/>
<path d="M630.1 1106.5H639.6" stroke-width="1.7" style="stroke:#fff"/>
<text x="634.85" y="1099.95" font-size="5" text-anchor="middle" font-weight="400" fill="#333">运行</text>
<text x="634.85" y="1114.85" font-size="5" text-anchor="middle" font-weight="400" fill="#333">故障</text>
<rect x="646.2" y="1117.5" width="16.7" height="16" stroke-width="1.6" rx="1.2"/>
<circle cx="654.55" cy="1125.5" r="3.4" stroke-width="1.2"/>
<circle cx="654.55" cy="1125.5" r="1.19" stroke-width="0.9" fill="#111"/>
<text x="654.55" y="1114.75" font-size="5" text-anchor="middle" font-weight="400" fill="#333">测试</text>
<rect x="669.2" y="1117.5" width="16.8" height="16" stroke-width="1.6" rx="1.2"/>
<circle cx="677.6" cy="1125.5" r="3.4" stroke-width="1.2"/>
<circle cx="677.6" cy="1125.5" r="1.19" stroke-width="0.9" fill="#111"/>
<text x="677.6" y="1114.75" font-size="5" text-anchor="middle" font-weight="400" fill="#333">复位</text>
<rect x="690.1" y="1082.4" width="30.3" height="32.2" stroke-width="1.5"/>
<path d="M693.13 1090.13H699.8V1084.98H710.7V1090.13H717.37V1105.58H693.13Z" stroke-width="1.3" fill="#222"/>
<rect x="700.8" y="1085.98" width="8.91" height="5.65" stroke-width="0.6" fill="#fff"/>
<path d="M694.13 1093.35h3.03M716.37 1093.35h-3.03" stroke-width="1" style="stroke:#eee"/>
<path d="M694.13 1102.36h3.03M716.37 1102.36h-3.03" stroke-width="1" style="stroke:#eee"/>
<path d="M694.64 1112.35L715.86 1112.35" stroke-width="0.7"/>
<rect x="624" y="1143.2" width="106.6" height="9.4" stroke-width="1.2"/>
<circle cx="628.44" cy="1147.9" r="3.76" stroke-width="1.4"/>
<path d="M628.44 1144.2L628.44 1151.6" stroke-width="1.5"/>
<text x="628.44" y="1141.9" font-size="5" text-anchor="middle" textLength="5.6" lengthAdjust="spacingAndGlyphs" fill="#333">75</text>
<path d="M632.88 1143.2L632.88 1152.6" stroke-width="1.5"/>
<circle cx="637.33" cy="1147.9" r="3.76" stroke-width="1.4"/>
<path d="M637.33 1144.2L637.33 1151.6" stroke-width="1.5"/>
<text x="637.33" y="1141.9" font-size="5" text-anchor="middle" textLength="5.6" lengthAdjust="spacingAndGlyphs" fill="#333">76</text>
<path d="M641.77 1143.2L641.77 1152.6" stroke-width="1.5"/>
<circle cx="646.21" cy="1147.9" r="3.76" stroke-width="1.4"/>
<path d="M646.21 1144.2L646.21 1151.6" stroke-width="1.5"/>
<text x="646.21" y="1141.9" font-size="5" text-anchor="middle" textLength="5.6" lengthAdjust="spacingAndGlyphs" fill="#333">65</text>
<path d="M650.65 1143.2L650.65 1152.6" stroke-width="1.5"/>
<circle cx="655.09" cy="1147.9" r="3.76" stroke-width="1.4"/>
<path d="M655.09 1144.2L655.09 1151.6" stroke-width="1.5"/>
<text x="655.09" y="1141.9" font-size="5" text-anchor="middle" textLength="5.6" lengthAdjust="spacingAndGlyphs" fill="#333">68</text>
<path d="M659.53 1143.2L659.53 1152.6" stroke-width="1.5"/>
<circle cx="663.98" cy="1147.9" r="3.76" stroke-width="1.4"/>
<path d="M663.98 1144.2L663.98 1151.6" stroke-width="1.5"/>
<text x="663.98" y="1141.9" font-size="5" text-anchor="middle" textLength="2.8" lengthAdjust="spacingAndGlyphs" fill="#333">A</text>
<path d="M668.42 1143.2L668.42 1152.6" stroke-width="1.5"/>
<circle cx="672.86" cy="1147.9" r="3.76" stroke-width="1.4"/>
<path d="M672.86 1144.2L672.86 1151.6" stroke-width="1.5"/>
<text x="672.86" y="1141.9" font-size="5" text-anchor="middle" textLength="2.8" lengthAdjust="spacingAndGlyphs" fill="#333">B</text>
<path d="M677.3 1143.2L677.3 1152.6" stroke-width="1.5"/>
<circle cx="681.74" cy="1147.9" r="3.76" stroke-width="1.4"/>
<path d="M681.74 1144.2L681.74 1151.6" stroke-width="1.5"/>
<text x="681.74" y="1141.9" font-size="5" text-anchor="middle" textLength="7.68" lengthAdjust="spacingAndGlyphs" fill="#333">A0-</text>
<path d="M686.18 1143.2L686.18 1152.6" stroke-width="1.5"/>
<circle cx="690.62" cy="1147.9" r="3.76" stroke-width="1.4"/>
<path d="M690.62 1144.2L690.62 1151.6" stroke-width="1.5"/>
<text x="690.62" y="1141.9" font-size="5" text-anchor="middle" textLength="7.68" lengthAdjust="spacingAndGlyphs" fill="#333">A0+</text>
<path d="M695.07 1143.2L695.07 1152.6" stroke-width="1.5"/>
<circle cx="699.51" cy="1147.9" r="3.76" stroke-width="1.4"/>
<path d="M699.51 1144.2L699.51 1151.6" stroke-width="1.5"/>
<text x="699.51" y="1141.9" font-size="5" text-anchor="middle" textLength="5.6" lengthAdjust="spacingAndGlyphs" fill="#333">BC</text>
<path d="M703.95 1143.2L703.95 1152.6" stroke-width="1.5"/>
<circle cx="708.39" cy="1147.9" r="3.76" stroke-width="1.4"/>
<path d="M708.39 1144.2L708.39 1151.6" stroke-width="1.5"/>
<text x="708.39" y="1141.9" font-size="5" text-anchor="middle" textLength="5.6" lengthAdjust="spacingAndGlyphs" fill="#333">D1</text>
<path d="M712.83 1143.2L712.83 1152.6" stroke-width="1.5"/>
<circle cx="717.27" cy="1147.9" r="3.76" stroke-width="1.4"/>
<path d="M717.27 1144.2L717.27 1151.6" stroke-width="1.5"/>
<text x="717.27" y="1141.9" font-size="5" text-anchor="middle" textLength="2.8" lengthAdjust="spacingAndGlyphs" fill="#333">N</text>
<path d="M721.72 1143.2L721.72 1152.6" stroke-width="1.5"/>
<circle cx="726.16" cy="1147.9" r="3.76" stroke-width="1.4"/>
<path d="M726.16 1144.2L726.16 1151.6" stroke-width="1.5"/>
<text x="726.16" y="1141.9" font-size="5" text-anchor="middle" textLength="2.8" lengthAdjust="spacingAndGlyphs" fill="#333">L</text>
<text x="641.3" y="1190.2" font-size="6.2" text-anchor="middle" font-weight="700" class="bd" fill="#1a1a1a" letter-spacing="0.4">2 - T1</text>
<text x="681.7" y="1190.2" font-size="6.2" text-anchor="middle" font-weight="700" class="bd" fill="#1a1a1a" letter-spacing="0.4">4 - T2</text>
<text x="721.8" y="1190.2" font-size="6.2" text-anchor="middle" font-weight="700" class="bd" fill="#1a1a1a" letter-spacing="0.4">6 - T3</text>
<path d="M750.4 863.1L806 863.1" stroke-width="2.6"/>
<path d="M777.4 863.1L777.4 1139" stroke-width="2.8"/>
<path d="M804.7 863.1V949.3Q804.7 951.3 802.7 951.3H777.4" stroke-width="2.6"/>
<path d="M777.4 1016.8H820.5Q823.5 1016.8 823.5 1019.8V1136Q823.5 1139 820.5 1139H777.4" stroke-width="2.6"/>
<rect x="752" y="864.4" width="21.7" height="49.5" stroke-width="1.5"/>
<path d="M755.96 864.4L755.96 913.9" stroke-width="1"/>
<path d="M763.4 867.04h4.2q5.52 0 5.52 5.76v1.44q0 5.28 -6 5.28h-11.52" stroke-width="2"/>
<path d="M763.4 890.2h4.2q5.52 0 5.52 5.76v1.44q0 5.28 -6 5.28h-11.52" stroke-width="2"/>
<path d="M783.4 864.4L783.4 890.8" stroke-width="1"/>
<path d="M801.1 864.4v15.6q0 2.4 -3 2.4h-3.6" stroke-width="1.4"/>
<path d="M777.4 887.56L802.7 887.56" stroke-width="1.5"/>
<path d="M790.6 890.2h9.6v6q0 4.8 -4.8 4.8H777.4" stroke-width="1.8"/>
<path d="M777.4 883L783.4 883" stroke-width="1"/>
<path d="M752.3 1139V1088.5H774V1139" stroke-width="1.2"/>
<path d="M755.9 1088.5L755.9 1139" stroke-width="1"/>
<path d="M755.9 1097.62h10.68q6 0 6 5.76q0 5.52 -7.8 5.52" stroke-width="2"/>
<path d="M764.78 1106.02v5.88H777.4" stroke-width="1.5"/>
<path d="M755.9 1124.38h10.68q6 0 6 5.76q0 5.52 -7.8 5.52" stroke-width="2"/>
<circle cx="767.6" cy="924.7" r="2.8" stroke-width="0.5" fill="#111"/>
<circle cx="792.6" cy="924.7" r="2.8" stroke-width="0.5" fill="#111"/>
<circle cx="764.8" cy="1000.2" r="2.8" stroke-width="0.5" fill="#111"/>
<path d="M750.4 1139L777.4 1139" stroke-width="2.4"/>
<path d="M698 510L720.6 510" stroke-width="2.4"/>
<path d="M595.5 950L750 950" stroke-width="1.5"/>
<path d="M595.5 1044L777 1044" stroke-width="1.5"/>
<path d="M751 957.5L777 957.5" stroke-width="1.5"/>
<path d="M600.5 950.3L600.5 1044" stroke-width="1.5"/>
<path d="M600.5 950.3L602.7 961.8L598.3 961.8Z" class="a"/>
<path d="M600.5 1044L598.3 1032.5L602.7 1032.5Z" class="a"/>
<text x="599.3" y="995.4" font-size="17" text-anchor="middle" textLength="15" lengthAdjust="spacingAndGlyphs" transform="rotate(-90 599.3 995.4)" fill="#1a1a1a">45</text>
<path d="M560 835.6L660.5 835.6" stroke-width="1.5"/>
<path d="M560 1175.2L660.5 1175.2" stroke-width="1.5"/>
<path d="M572 835.9L572 1174.9" stroke-width="1.5"/>
<path d="M572 835.9L574.2 848.4L569.8 848.4Z" class="a"/>
<path d="M572 1174.9L569.8 1162.4L574.2 1162.4Z" class="a"/>
<text x="570" y="1007.7" font-size="17" text-anchor="middle" textLength="63.4" lengthAdjust="spacingAndGlyphs" transform="rotate(-90 570 1007.7)" fill="#1a1a1a">210.5 ± 1.2</text>
<path d="M750.5 786.3L750.5 806" stroke-width="1.5"/>
<path d="M805.2 786.3L805.2 863" stroke-width="1.5"/>
<path d="M750.8 793L804.9 793" stroke-width="1.5"/>
<path d="M750.8 793L763.3 790.8L763.3 795.2Z" class="a"/>
<path d="M804.9 793L792.4 795.2L792.4 790.8Z" class="a"/>
<text x="778" y="788.3" font-size="17" text-anchor="middle" textLength="17" lengthAdjust="spacingAndGlyphs" fill="#1a1a1a">26</text>
<path d="M663 832.5L695 772.5H760.8" stroke-width="1.4"/>
<path d="M662.4 833.6L663.66 828.05L666.31 829.47Z" class="a"/>
<text x="692" y="766.4" font-size="15" textLength="19" lengthAdjust="spacingAndGlyphs" fill="#1a1a1a">4 ×</text>
<text x="712.6" y="766.9" font-size="20.5" textLength="10.2" lengthAdjust="spacingAndGlyphs" font-weight="700" fill="#1a1a1a">ø</text>
<text x="722.6" y="766.4" font-size="15" textLength="19.5" lengthAdjust="spacingAndGlyphs" fill="#1a1a1a">5.5</text>
<text x="742.6" y="758.9" font-size="10" textLength="21.3" lengthAdjust="spacingAndGlyphs" fill="#1a1a1a">+0.75</text>
<text x="747.3" y="769.2" font-size="10" textLength="4.6" lengthAdjust="spacingAndGlyphs" fill="#1a1a1a">0</text>
<path d="M852.3 817L884.8 817" stroke-width="1.4"/>
<path d="M852.3 817L767.8 924.5" stroke-width="1.4"/>
<text x="869.8" y="814.5" font-size="16.8" text-anchor="middle" textLength="18.8" lengthAdjust="spacingAndGlyphs" fill="#1a1a1a">02</text>
<path d="M852.3 900L884.8 900" stroke-width="1.4"/>
<path d="M852.3 900L792.8 924.5" stroke-width="1.4"/>
<path d="M852.3 900L765 1000" stroke-width="1.4"/>
<text x="869.1" y="895" font-size="17.2" text-anchor="middle" textLength="19.6" lengthAdjust="spacingAndGlyphs" fill="#1a1a1a">06</text>
<path d="M867.3 1002.5L894.8 1002.5" stroke-width="1.4"/>
<path d="M867.3 1002.5L797.3 1087" stroke-width="1.4"/>
<text x="858.5" y="998" font-size="12.6" textLength="49.5" lengthAdjust="spacingAndGlyphs" class="cm" fill="#1a1a1a">计量模块</text>
<path d="M610.8 1193L610.8 1286.5" stroke-width="1.5"/>
<path d="M750.3 1193L750.3 1286.5" stroke-width="1.5"/>
<path d="M660.5 1163L660.5 1245.3" stroke-width="1.5"/>
<path d="M700.6 1163L700.6 1245.3" stroke-width="1.5"/>
<path d="M777.4 1139L777.4 1245.3" stroke-width="1.5"/>
<path d="M823.4 1139.5L823.4 1286.5" stroke-width="1.5"/>
<path d="M630 1233.5L660 1233.5" stroke-width="1.5"/>
<path d="M660.5 1233.5L647 1235.7L647 1231.3Z" class="a"/>
<path d="M700.6 1233.5L804.8 1233.5" stroke-width="1.5"/>
<path d="M700.6 1233.5L714.1 1231.3L714.1 1235.7Z" class="a"/>
<path d="M750.3 1233.5L736.8 1235.7L736.8 1231.3Z" class="a"/>
<path d="M777.4 1233.5L790.9 1231.3L790.9 1235.7Z" class="a"/>
<text x="681.3" y="1231.3" font-size="17" text-anchor="middle" textLength="37" lengthAdjust="spacingAndGlyphs" fill="#1a1a1a">28 ± 0.5</text>
<text x="764.8" y="1230" font-size="17" text-anchor="middle" textLength="16.5" lengthAdjust="spacingAndGlyphs" fill="#1a1a1a">13</text>
<path d="M611.1 1274L750 1274" stroke-width="1.5"/>
<path d="M611.1 1274L625.1 1271.7L625.1 1276.3Z" class="a"/>
<path d="M750 1274L736 1276.3L736 1271.7Z" class="a"/>
<path d="M750.6 1274L823.1 1274" stroke-width="1.5"/>
<path d="M750.6 1274L763.1 1271.8L763.1 1276.2Z" class="a"/>
<path d="M823.1 1274L810.6 1276.2L810.6 1271.8Z" class="a"/>
<text x="680.8" y="1269" font-size="17" text-anchor="middle" textLength="18.5" lengthAdjust="spacingAndGlyphs" fill="#1a1a1a">90</text>
<text x="786.8" y="1269" font-size="17" text-anchor="middle" textLength="30" lengthAdjust="spacingAndGlyphs" fill="#1a1a1a">38.5</text>
<path d="M284.3 753.6L462.5 753.6" stroke-width="3.1"/>
<path d="M462.5 753.6L491.3 753.6" stroke-width="1.5"/>
<path d="M297 753.6L318.5 719.7" stroke-width="1.5"/>
<path d="M313.37 753.6L334.87 719.7" stroke-width="1.5"/>
<path d="M329.74 753.6L351.24 719.7" stroke-width="1.5"/>
<path d="M346.11 753.6L367.61 719.7" stroke-width="1.5"/>
<path d="M362.48 753.6L383.98 719.7" stroke-width="1.5"/>
<path d="M378.85 753.6L400.35 719.7" stroke-width="1.5"/>
<path d="M395.22 753.6L416.72 719.7" stroke-width="1.5"/>
<path d="M411.59 753.6L433.09 719.7" stroke-width="1.5"/>
<path d="M427.96 753.6L449.46 719.7" stroke-width="1.5"/>
<path d="M444.33 753.6L465.83 719.7" stroke-width="1.5"/>
<path d="M284.3 1247.2L462.5 1247.2" stroke-width="3.1"/>
<path d="M462.5 1247.2L491.3 1247.2" stroke-width="1.5"/>
<path d="M300 1247.2L321 1280" stroke-width="1.5"/>
<path d="M316.6 1247.2L337.6 1280" stroke-width="1.5"/>
<path d="M333.2 1247.2L354.2 1280" stroke-width="1.5"/>
<path d="M349.8 1247.2L370.8 1280" stroke-width="1.5"/>
<path d="M366.4 1247.2L387.4 1280" stroke-width="1.5"/>
<path d="M383 1247.2L404 1280" stroke-width="1.5"/>
<path d="M399.6 1247.2L420.6 1280" stroke-width="1.5"/>
<path d="M416.2 1247.2L437.2 1280" stroke-width="1.5"/>
<path d="M432.8 1247.2L453.8 1280" stroke-width="1.5"/>
<path d="M449.4 1247.2L470.4 1280" stroke-width="1.5"/>
<path d="M129.4 775L129.4 1000" stroke-width="1.5"/>
<path d="M411.8 775L411.8 822" stroke-width="1.5"/>
<path d="M129.7 790.5L411.5 790.5" stroke-width="1.5"/>
<path d="M129.7 790.5L146.7 787.6L146.7 793.4Z" class="a"/>
<path d="M411.5 790.5L394.5 793.4L394.5 787.6Z" class="a"/>
<text x="276" y="788.7" font-size="17" text-anchor="middle" textLength="23" lengthAdjust="spacingAndGlyphs" fill="#1a1a1a">179</text>
<path d="M412 808L491.3 808" stroke-width="1.5"/>
<path d="M478.75 754L478.75 807.7" stroke-width="1.5"/>
<path d="M478.75 754L480.95 767L476.55 767Z" class="a"/>
<path d="M478.75 807.7L476.55 794.7L480.95 794.7Z" class="a"/>
<text x="472.5" y="782" font-size="17" text-anchor="middle" textLength="17.5" lengthAdjust="spacingAndGlyphs" transform="rotate(-90 472.5 782)" fill="#1a1a1a">30</text>
<path d="M478.75 808.3L478.75 1192.7" stroke-width="1.5"/>
<path d="M478.75 808.3L480.95 820.8L476.55 820.8Z" class="a"/>
<path d="M478.75 1192.7L476.55 1180.2L480.95 1180.2Z" class="a"/>
<text x="477" y="999.5" font-size="17" text-anchor="middle" textLength="25.5" lengthAdjust="spacingAndGlyphs" transform="rotate(-90 477 999.5)" fill="#1a1a1a">243</text>
<path d="M87 1193L491.3 1193" stroke-width="1.5"/>
<path d="M478.75 1193.3L478.75 1246.8" stroke-width="1.5"/>
<path d="M478.75 1193.3L480.95 1206.3L476.55 1206.3Z" class="a"/>
<path d="M478.75 1246.8L476.55 1233.8L480.95 1233.8Z" class="a"/>
<text x="472.5" y="1218.7" font-size="17" text-anchor="middle" textLength="17.5" lengthAdjust="spacingAndGlyphs" transform="rotate(-90 472.5 1218.7)" fill="#1a1a1a">30</text>
<path d="M90.5 1000L129.4 1000" stroke-width="1.5"/>
<path d="M103.25 1000.3L103.25 1192.7" stroke-width="1.5"/>
<path d="M103.25 1000.3L105.55 1014.3L100.95 1014.3Z" class="a"/>
<path d="M103.25 1192.7L100.95 1178.7L105.55 1178.7Z" class="a"/>
<text x="102.3" y="1097.5" font-size="17" text-anchor="middle" textLength="37.5" lengthAdjust="spacingAndGlyphs" transform="rotate(-90 102.3 1097.5)" fill="#1a1a1a">120.7</text>
<path d="M179.6 1156L179.6 1239.5" stroke-width="1.5"/>
<path d="M411.4 1178L411.4 1239.5" stroke-width="1.5"/>
<path d="M179.9 1227L411.1 1227" stroke-width="1.5"/>
<path d="M179.9 1227L194.9 1224.5L194.9 1229.5Z" class="a"/>
<path d="M411.1 1227L396.1 1229.5L396.1 1224.5Z" class="a"/>
<text x="297.7" y="1223.8" font-size="17" text-anchor="middle" textLength="36.5" lengthAdjust="spacingAndGlyphs" fill="#1a1a1a">147.5</text>
<path d="M319.6 844.4V807H412" stroke-width="1.25"/>
<path d="M324.6 862V809.6H412" stroke-width="1"/>
<path d="M412.8 821.5L412.8 1177.5" stroke-width="1.7"/>
<path d="M173.5 844.5H319.6" stroke-width="1.25"/>
<path d="M173.5 844.5V866L170.7 867.5V961" stroke-width="1.25"/>
<path d="M174.6 847V864L176.6 868.5" stroke-width="0.9"/>
<path d="M192 844.2L201 842.3Q202.5 842.5 202 844.2" stroke-width="0.9"/>
<path d="M177.8 844.5V958.5Q177.8 960.5 175.8 960.5H170.7" stroke-width="1.25"/>
<path d="M181.2 844.5V881.5M181.2 884V955" stroke-width="1"/>
<path d="M178.5 881.3H286Q290.3 881.3 290.3 877V866.5Q290.3 862.2 294.5 862.2H348Q351.2 862.2 351.2 865.4V906" stroke-width="1.25"/>
<path d="M180.5 883.2H307.5Q310 883.2 310.8 881L313.6 866.5Q314 864.2 316.5 864.2H346.5Q348.8 864.2 348.8 866.5V955" stroke-width="1"/>
<path d="M180.5 954.6H348.8M178 956.8H351" stroke-width="1"/>
<path d="M351.3 906.4L351.3 956.8" stroke-width="2.2"/>
<path d="M179.6 962.3H158Q154.6 962.3 154.6 965.6V1028.7Q154.6 1032.2 158 1032.2H179.6" stroke-width="1.25"/>
<path d="M179.6 964.2H161Q158.7 964.2 158.7 966.5V1028Q158.7 1030.3 161 1030.3H177" stroke-width="0.9"/>
<path d="M179.6 1032.2V1115.5" stroke-width="1.25"/>
<path d="M177.2 1034V1113" stroke-width="1"/>
<path d="M154.3 973.7H132.2L128.9 999.8L131.4 1026.3L154.3 1025.6" stroke-width="1.25"/>
<path d="M153.8 978.2H149Q147 999 149 1019.8H153.8" stroke-width="1"/>
<path d="M148.2 980Q145.5 999 148.2 1018" stroke-width="0.9"/>
<path d="M132.5 1024.5Q134 1016.5 141 1015.6L147.5 1015.3V1025" stroke-width="1.2"/>
<path d="M135 1023.6Q136.5 1018.6 141.5 1018.1H147" stroke-width="1.8"/>
<rect x="149.3" y="1020.5" width="4.6" height="4.6" stroke-width="0.9"/>
<path d="M351.3 956.8V967.6H345V981H347.6V1015.6H345V1028.5H351.3V1138.8" stroke-width="1.25"/>
<path d="M183.6 1042H333Q334.6 1042 334.6 1043.6V1107.2Q334.6 1108.8 333 1108.8H252.8Q251.3 1108.8 251.3 1107.3V1089Q251.3 1087.5 249.8 1087.5H183.6Q182 1087.5 182 1086V1043.6Q182 1042 183.6 1042Z" stroke-width="1.25"/>
<path d="M184 1044H332.6V1106.8" stroke-width="0.8"/>
<path d="M212.5 1042V1053A8.1 8.1 0 0 0 228.7 1053V1042" stroke-width="1.25"/>
<circle cx="220.7" cy="1053.8" r="3.5" stroke-width="1.5"/>
<path d="M230.5 1087.5V1068H244.5V1087.5" stroke-width="1.1"/>
<path d="M315.5 1042V1043.8H320V1042M315.5 1108.8V1107H320V1108.8" stroke-width="0.9"/>
<rect x="174.6" y="1104.5" width="4.8" height="8" stroke-width="1" rx="1"/>
<path d="M179.6 1116.2H243.5Q247.8 1116.2 247.8 1120.5V1134.5Q247.8 1138.8 252 1138.8H351.3" stroke-width="1.5"/>
<path d="M179.6 1118.2H242Q245.8 1118.2 245.8 1122V1135.5Q245.8 1140.4 250.5 1140.4H349" stroke-width="0.9"/>
<path d="M179.6 1116V1156.5" stroke-width="1.25"/>
<path d="M181.4 1118.5V1155" stroke-width="0.8"/>
<path d="M179.6 1156.3H293Q298 1156.3 298 1161.3V1192.3" stroke-width="1.25"/>
<path d="M179.6 1158.2H291.5Q294 1158.2 294 1160.7V1192.3" stroke-width="0.9"/>
<path d="M321.3 1140L325 1192.3" stroke-width="1"/>
<path d="M293 1192.4H411.6" stroke-width="1.8"/>
<path d="M411.3 1177.5L411.3 1193" stroke-width="1.5"/>
<circle cx="193.2" cy="922.3" r="5.2" stroke-width="1.5"/>
<circle cx="200.2" cy="966.6" r="4" stroke-width="1.5"/>
<circle cx="232" cy="963.3" r="4.3" stroke-width="1.5"/>
<circle cx="298.3" cy="1000" r="3.3" stroke-width="1.5"/>
<circle cx="187.7" cy="1032" r="4.2" stroke-width="1.5"/>
<circle cx="334.2" cy="928.6" r="5.2" stroke-width="1.5"/>
<circle cx="341.8" cy="1102.5" r="3.8" stroke-width="1.5"/>
<circle cx="173.2" cy="999.7" r="7.5" stroke-width="1.4"/>
<rect x="169.3" y="997.2" width="7.6" height="5" stroke-width="1.6" rx="2"/>
<circle cx="194.1" cy="1016.8" r="8.4" stroke-width="1.4"/>
<circle cx="194.1" cy="1016.8" r="6.7" stroke-width="1.1"/>
<path d="M192 1010.3V1023.3M192 1016.8H187.6M187.8 1013.8H192M187.8 1019.8H192" stroke-width="1.1"/>
<path d="M194 1010.5V1023" stroke-width="1.5"/>
<path d="M351 921.5H344.5A7.2 7.2 0 0 1 344.5 907.1H351" stroke-width="1.4"/>
<rect x="341.5" y="909.5" width="5.8" height="9.6" stroke-width="1.5" rx="1.6"/>
<path d="M351 1092.7H344.5A7.2 7.2 0 0 1 344.5 1078.3H351" stroke-width="1.4"/>
<rect x="341.5" y="1080.7" width="5.8" height="9.6" stroke-width="1.5" rx="1.6"/>
</g>
</svg>
</body></html>
